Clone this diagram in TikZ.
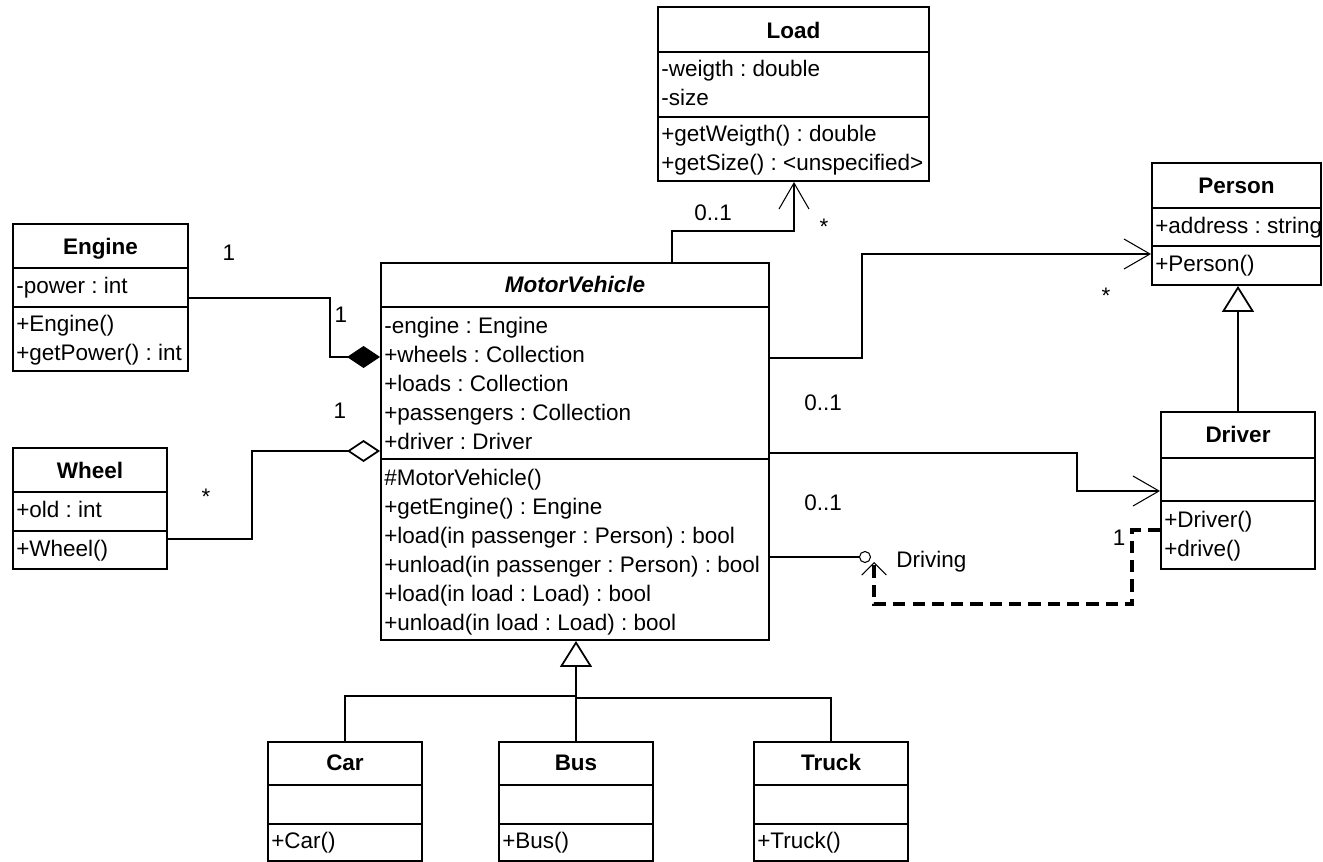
\documentclass[tikz,border=0pt]{standalone}
\usepackage{fontspec}
\setmainfont{Liberation Sans}
\usetikzlibrary{arrows.meta}
\usetikzlibrary{fit}
\usetikzlibrary{positioning}
\frenchspacing

\tikzset{
	classbox/.style={draw,line width=1.1pt,inner sep=0pt},
	classline/.style={line width=1.1pt},
	member/.style={anchor=base west,inner sep=0pt,font=\fontsize{12.8pt}{15pt}\selectfont},
	cname/.style={anchor=base,inner sep=0pt,font=\fontsize{12.8pt}{15pt}\selectfont\bfseries},
	mult/.style={inner sep=0pt,font=\fontsize{12.8pt}{15pt}\selectfont},
	assoc/.style={line width=0.6pt},
	navig/.style={assoc,-{Straight Barb[length=0.52cm,width=0.6cm]}},
	compos/.style={assoc,-{Diamond[length=0.66cm,width=0.44cm]}},
	aggreg/.style={assoc,-{Diamond[length=0.66cm,width=0.44cm,fill=white,line width=1pt]}},
	inherit/.style={assoc,-{Triangle[length=0.52cm,width=0.64cm,fill=white,line width=1pt]}},
	depend/.style={line width=2pt,dash pattern=on 7pt off 4pt,-{Straight Barb[length=7pt,width=14pt,line width=0.6pt]}}
}

% box with its two compartment lines: name, x1, y1, x2, y2, first line, second line
\newcommand{\umlclass}[7]{%
	\node[classbox,fit={(#2,#3) (#4,#5)}] (#1) {};
	\draw[classline] (#2,#6)--(#4,#6) (#2,#7)--(#4,#7);
}
% one node for each line of a compartment
\newcommand{\members}[4]{%
	\foreach \txt [count=\i] in {#4}
		\node[member] (#1-\i) at (#2,{#3+29*(\i-1)}) {\txt};
}

\begin{document}
\begin{tikzpicture}[x=0.02cm,y=-0.02cm]
	
	\useasboundingbox (0,0) rectangle (1323,862);
	
	% classes
	\umlclass{load}{658}{7}{929}{181}{52}{117}
	\node[cname] (load-t) at (793.5,38) {Load};
	\members{load-a}{661}{76}{-weigth : double,-size}
	\members{load-o}{661}{141}{+getWeigth() : double,+getSize() : <unspecified>}
	
	\umlclass{person}{1152}{163}{1321}{285}{208}{246}
	\node[cname] (person-t) at (1236.5,193) {Person};
	\members{person-a}{1155}{233}{+address : string}
	\members{person-o}{1155}{271}{+Person()}
	
	\umlclass{engine}{13}{224}{188}{371}{268}{307}
	\node[cname] (engine-t) at (100.5,254) {Engine};
	\members{engine-a}{16}{293}{-power : int}
	\members{engine-o}{16}{331}{+Engine(),+getPower() : int}
	
	\umlclass{wheel}{13}{448}{167}{569}{492}{531}
	\node[cname] (wheel-t) at (90,478) {Wheel};
	\members{wheel-a}{16}{517}{+old : int}
	\members{wheel-o}{16}{556}{+Wheel()}
	
	\umlclass{mv}{381}{263}{769}{640}{307}{459}
	\node[cname] (mv-t) at (575,292) {\textit{MotorVehicle}};
	\members{mv-a}{384}{333}{-engine : Engine,+wheels : Collection,+loads : Collection,+passengers : Collection,+driver : Driver}
	\members{mv-o}{384}{485}{\#MotorVehicle(),+getEngine() : Engine,+load(in passenger : Person) : bool,+unload(in passenger : Person) : bool,+load(in load : Load) : bool,+unload(in load : Load) : bool}
	
	\umlclass{driver}{1161}{412}{1315}{569}{458}{501}
	\node[cname] (driver-t) at (1238,442) {Driver};
	\members{driver-o}{1164}{527}{+Driver(),+drive()}
	
	\umlclass{car}{268}{742}{422}{861}{785}{824}
	\node[cname] (car-t) at (345,770) {Car};
	\members{car-o}{271}{848}{+Car()}
	
	\umlclass{bus}{499}{742}{653}{861}{785}{824}
	\node[cname] (bus-t) at (576,770) {Bus};
	\members{bus-o}{502}{848}{+Bus()}
	
	\umlclass{truck}{754}{742}{908}{861}{785}{824}
	\node[cname] (truck-t) at (831,770) {Truck};
	\members{truck-o}{757}{848}{+Truck()}
	
	% bends of the connectors
	\coordinate [] (e1) at (330,298);
	\coordinate [] (e2) at (330,357);
	\coordinate [] (w1) at (252,539);
	\coordinate [] (w2) at (252,451);
	\coordinate [] (l1) at (672,231);
	\coordinate [] (l2) at (794,231);
	\coordinate [] (p1) at (862,358);
	\coordinate [] (p2) at (862,254);
	\coordinate [] (d1) at (1077,453);
	\coordinate [] (d2) at (1077,491);
	\coordinate [] (k1) at (1132,530);
	\coordinate [] (k2) at (1132,604);
	\coordinate [] (k3) at (874,604);
	\coordinate [] (k4) at (874,562);
	\coordinate [] (g1) at (576,696);
	\coordinate [] (g2) at (576,698);
	
	\draw[compos] (engine.east |- e1)--(e1)--(e2)--(mv.west |- e2);
	\draw[aggreg] (wheel.east |- w1)--(w1)--(w2)--(mv.west |- w2);
	\draw[navig] (mv.north -| l1)--(l1)--(l2)--(load.south -| l2);
	\draw[navig] (mv.east |- p1)--(p1)--(p2)--(person.west |- p2);
	\draw[navig] (mv.east |- d1)--(d1)--(d2)--(driver.west |- d2);
	
	% interface
	\node[draw,circle,line width=0.6pt,minimum size=0.22cm,inner sep=0pt] (drv) at (865,557) {};
	\draw[assoc] (mv.east |- drv)--(drv.west);
	\draw[depend] (driver.west |- k1)--(k1)--(k2)--(k3)--(k4);
	\node[member] (drv-label) at (896,567) {Driving};
	
	% generalization
	\draw[inherit] (bus.north)--(bus.north |- mv.south);
	\draw[assoc] (car.north) |- (g1);
	\draw[assoc] (truck.north) |- (g2);
	\draw[inherit] (driver.north)--(driver.north |- person.south);
	
	% multiplicities
	\node[mult] (m-eng1) at (229,253) {1};
	\node[mult] (m-eng2) at (341,315) {1};
	\node[mult] (m-whl1) at (206,497) {*};
	\node[mult] (m-whl2) at (340,411) {1};
	\node[mult] (m-ld1) at (713,213) {0..1};
	\node[mult] (m-ld2) at (824,227) {*};
	\node[mult] (m-per1) at (823,403) {0..1};
	\node[mult] (m-per2) at (1106,296) {*};
	\node[mult] (m-drv1) at (823,503) {0..1};
	\node[mult] (m-dep) at (1119,538) {1};
	
\end{tikzpicture}
\end{document}
